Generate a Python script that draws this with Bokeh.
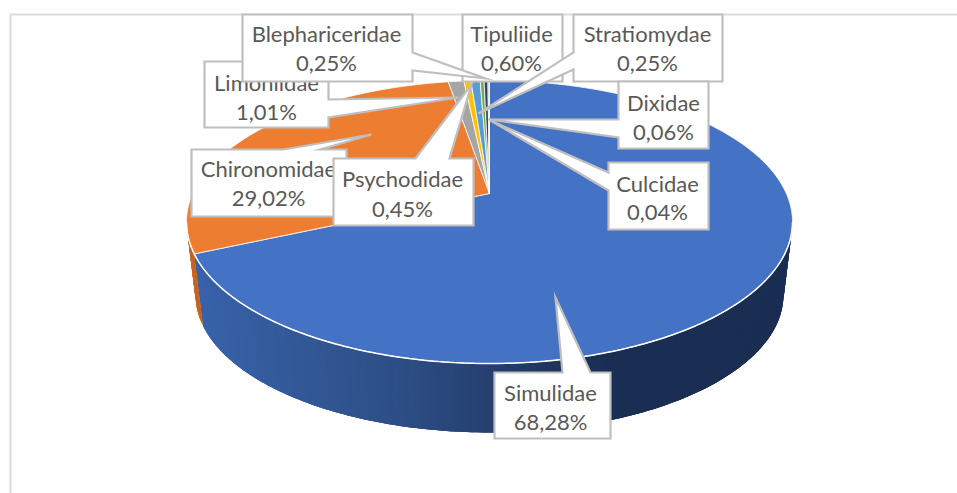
import math
from bokeh.plotting import figure
from bokeh.models import Range1d
from bokeh.core.properties import value
from bokeh.embed import file_html
from bokeh.resources import INLINE

# ---- chart data (slice order = clockwise from 12 o'clock) ----
categories = ["Simulidae", "Chironomidae", "Limoniidae", "Psychodidae", "Tipuliide",
              "Stratiomydae", "Blephariceridae", "Dixidae", "Culcidae"]
percent = [68.28, 29.02, 1.01, 0.45, 0.60, 0.25, 0.25, 0.06, 0.04]
labels = ["68,28%", "29,02%", "1,01%", "0,45%", "0,60%", "0,25%", "0,25%", "0,06%", "0,04%"]
colors = ["#4472C4", "#ED7D31", "#A5A5A5", "#FFC000", "#5B9BD5",
          "#70AD47", "#264478", "#9E480E", "#636363"]

# ---- perspective model of the 3-D pie (page pixels) ----
CX, CY, SX, TY, K = 489.0, 193.0, 296.8, 135.8, 0.2014
CYB, SCALE_B = 267.0, 0.97

def project(theta, bottom=False):
    u, v = math.sin(theta), -math.cos(theta)
    d = 1 - K * v
    if bottom:
        return CX + SCALE_B * SX * u / d, CYB + SCALE_B * TY * v / d
    return CX + SX * u / d, CY + TY * v / d

def lerp_color(x):
    stops = [(195, (56, 98, 170)), (300, (50, 88, 150)), (400, (45, 78, 133)),
             (490, (38, 64, 112)), (560, (30, 52, 92)), (610, (26, 45, 82)), (800, (26, 45, 82))]
    for (x0, c0), (x1, c1) in zip(stops, stops[1:]):
        if x <= x1:
            t = max(0, (x - x0) / (x1 - x0))
            return "#%02x%02x%02x" % tuple(round(a + (b - a) * t) for a, b in zip(c0, c1))
    return "#1a2d52"

p = figure(width=957, height=493, x_range=Range1d(0, 957), y_range=Range1d(493, 0),
           x_axis_type=None, y_axis_type=None, toolbar_location=None,
           output_backend="svg", min_border=0, outline_line_color=None,
           background_fill_color="white", border_fill_color="white")

# chart frame
p.line([10, 10, 957], [493, 14, 14], line_color="#dcdcdc", line_width=2)

# slice boundaries as angles
total = sum(percent)
edges = [0.0]
for v_ in percent:
    edges.append(edges[-1] + v_ / total * 2 * math.pi)

# side wall, drawn from each front-facing slice as overlapping strips
silh_r = math.acos(-K)
silh_l = 2 * math.pi - silh_r
for i, col in enumerate(colors[:2]):
    a0, a1 = max(edges[i], silh_r), min(edges[i + 1], silh_l)
    if a1 <= a0:
        continue
    n = 160 if i == 0 else 12
    for j in range(n):
        t0 = a0 + (a1 - a0) * j / n
        t1 = min(a1, a0 + (a1 - a0) * (j + 3) / n)
        arc = [t0 + (t1 - t0) * m / 3 for m in range(4)]
        pts = [project(a_) for a_ in arc] + [project(a_, True) for a_ in reversed(arc)]
        xs = [q[0] for q in pts]
        ys = [q[1] for q in pts]
        c = lerp_color(project(t0)[0]) if i == 0 else "#c8641f"
        p.patch(xs, ys, fill_color=c, line_color=None)

# top face
for i, col in enumerate(colors):
    n = max(2, int((edges[i + 1] - edges[i]) * 90))
    rim = [project(edges[i] + (edges[i + 1] - edges[i]) * j / n) for j in range(n + 1)]
    xs = [CX] + [q[0] for q in rim]
    ys = [CY] + [q[1] for q in rim]
    p.patch(xs, ys, fill_color=col, line_color="white", line_width=0.8)

# white highlight along front rim
rim = [project(silh_r + (silh_l - silh_r) * j / 200) for j in range(201)]
p.line([q[0] for q in rim], [q[1] for q in rim], line_color="white", line_width=1.5)

# ---- callouts: box (l, t, r, b), pointer polygon, text centre ----
callouts = {
    "Simulidae":       dict(box=(494, 372, 610, 438), ptr=[(590, 372), (555, 297), (562, 372)], xc=550, yc=(392, 421)),
    "Chironomidae":    dict(box=(191, 149, 346, 216), ptr=[(320, 149), (371, 134), (283, 149)], xc=268, yc=(168, 197)),
    "Limoniidae":      dict(box=(204, 61, 328, 127), ptr=[(328, 99), (458, 97), (328, 117)], xc=266, yc=(82, 111)),
    "Psychodidae":     dict(box=(333, 158, 473, 225), ptr=[(449, 158), (471, 84), (415, 158)], xc=402, yc=(178, 208)),
    "Tipuliide":       dict(box=(462, 14, 562, 81), ptr=None, xc=511, yc=(33, 62)),
    "Stratiomydae":    dict(box=(573, 14, 722, 81), ptr=[(573, 69), (478, 113), (573, 52)], xc=647, yc=(33, 62)),
    "Blephariceridae": dict(box=(242, 14, 412, 81), ptr=[(412, 52), (485, 78), (412, 70)], xc=326, yc=(33, 62)),
    "Dixidae":         dict(box=(618, 81, 708, 148), ptr=[(618, 137), (488, 119), (618, 119)], xc=663, yc=(102, 131)),
    "Culcidae":        dict(box=(608, 162, 708, 229), ptr=[(608, 190), (490, 120), (608, 172)], xc=657, yc=(183, 211)),
}

for name, lab in zip(categories, labels):
    c = callouts[name]
    l, t, r, b = c["box"]
    ptr = c["ptr"]
    if ptr is None:
        outline = [(l, t), (r, t), (r, b), (l, b)]
    else:
        a, tip, z = ptr
        if a[1] == t and z[1] == t:      # pointer on top side
            outline = [(l, t), z, tip, a, (r, t), (r, b), (l, b)]
        elif a[1] == b and z[1] == b:
            outline = [(l, t), (r, t), (r, b), z, tip, a, (l, b)]
        elif a[0] == r:                  # right side
            outline = [(l, t), (r, t), a, tip, z, (r, b), (l, b)]
        else:                            # left side
            outline = [(l, t), (r, t), (r, b), (l, b), a, tip, z]
    p.patch([q[0] for q in outline], [q[1] for q in outline], fill_color="white",
            line_color="#bfbfbf", line_width=2.2, line_join="miter")
    p.text([c["xc"], c["xc"]], list(c["yc"]), text=[name, lab], text_color="#595959",
           text_font=value("Lato"), text_font_size="22px", text_align="center",
           text_baseline="middle")

open("out.html", "w").write(file_html(p, INLINE))
